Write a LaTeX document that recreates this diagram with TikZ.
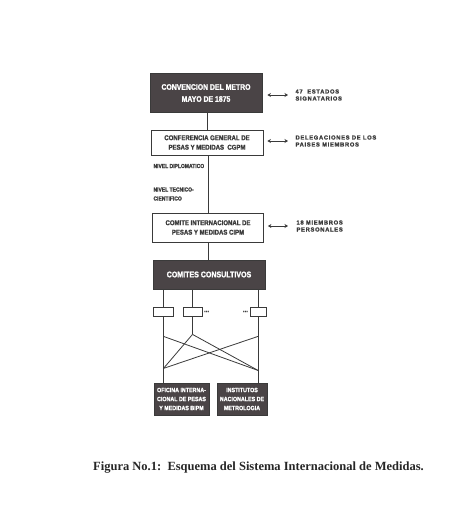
\documentclass[tikz,border=0pt]{standalone}
\usepackage{fontspec}
\usepackage{xcolor}
\usetikzlibrary{calc,arrows.meta,positioning}
\setmainfont{Liberation Serif}
\newfontfamily\diafont[FakeStretch=0.86,FakeBold=1.6]{Liberation Sans Bold}
\newfontfamily\lblfont[LetterSpace=12,FakeBold=1.6]{Liberation Sans Bold}
\definecolor{darkc}{HTML}{4A4446}
\definecolor{inkc}{HTML}{3A3A3A}
\tikzset{
  ln/.style={draw=inkc,line width=0.8pt},
  dar/.style={{Stealth[length=3.5pt,width=4pt]}-{Stealth[length=3.5pt,width=4pt]},line width=0.9pt,inkc},
  darkbox/.style={draw=inkc,line width=0.8pt,fill=darkc,text=white,align=center,inner sep=1pt,
    font=\diafont},
  whitebox/.style={draw=inkc,line width=0.8pt,fill=white,text=inkc,align=center,inner sep=1pt,
    font=\diafont\fontsize{7}{9.5}\selectfont},
  smallbox/.style={draw=inkc,line width=0.8pt,minimum width=18pt,minimum height=9pt,inner sep=0pt},
  lbl/.style={anchor=west,align=left,text=inkc,font=\lblfont\fontsize{5.8}{7}\selectfont},
  lvl/.style={anchor=west,align=left,text=inkc,font=\diafont\fontsize{5.8}{9}\selectfont}
}

\begin{document}
\begin{tikzpicture}[x=1pt,y=-1pt]
\useasboundingbox (0,0) rectangle (469,517);
% main column
\node[darkbox,minimum width=112pt,minimum height=39pt,font=\diafont\fontsize{8}{12}\selectfont] (conv) at (206,93) {CONVENCION DEL METRO\\MAYO DE 1875};
\node[whitebox,minimum width=112pt,minimum height=25pt] (cgpm) at (207,142.5) {CONFERENCIA GENERAL DE\\PESAS Y MEDIDAS\ \ CGPM};
\node[whitebox,minimum width=111pt,minimum height=29pt] (cipm) at (208,227.5) {COMITE INTERNACIONAL DE\\PESAS Y MEDIDAS CIPM};
\node[darkbox,minimum width=112pt,minimum height=29pt,font=\diafont\fontsize{8.2}{10}\selectfont] (cons) at (209,274.5) {COMITES CONSULTIVOS};
% labels on the right
\node[lbl] (est) at (292,95) {47\ \ ESTADOS\\SIGNATARIOS};
\node[lbl] (del) at (292,141) {DELEGACIONES DE LOS\\PAISES MIEMBROS};
\node[lbl] (mie) at (293,226) {18 MIEMBROS\\PERSONALES};
\node[lvl] (diplo) at (150,166) {NIVEL DIPLOMATICO};
\node[lvl] (tecn) at (150,194) {NIVEL TECNICO-\\CIENTIFICO};
% small committees
\node[smallbox,minimum width=20pt] (c1) at (163.5,311.5) {};
\node[smallbox,minimum width=19pt] (c2) at (192.5,311.5) {};
\node[smallbox,minimum width=16pt] (c3) at (258,311.5) {};
\node[text=inkc,font=\diafont\fontsize{7}{8}\selectfont,anchor=west,inner sep=1.5pt] (d1) at (c2.east) {...};
\node[text=inkc,font=\diafont\fontsize{7}{8}\selectfont,anchor=east,inner sep=1.5pt] (d2) at (c3.west) {...};
% lower boxes
\node[darkbox,minimum width=55pt,minimum height=32pt,font=\diafont\fontsize{6.2}{9}\selectfont] (bipm) at (181.5,399) {OFICINA INTERNA-\\CIONAL DE PESAS\\Y MEDIDAS BIPM};
\node[darkbox,minimum width=50pt,minimum height=32pt,font=\diafont\fontsize{6.2}{9}\selectfont] (inst) at (242,399) {INSTITUTOS\\NACIONALES DE\\METROLOGIA};
% connectors
\draw[ln] (conv.south -| cgpm.north) -- (cgpm.north);
\draw[ln] (cgpm.south -| 208,0) -- (cipm.north -| 208,0);
\draw[ln] (cipm.south -| 208,0) -- (cons.north -| 208,0);
\draw[dar] ([xshift=5pt]conv.east |- est) -- ([xshift=-4pt]est.west);
\draw[dar] ([xshift=4pt]cgpm.east |- del) -- ([xshift=-4pt]del.west);
\draw[dar] ([xshift=4pt]cipm.east |- mie) -- ([xshift=-5pt]mie.west);
\foreach \c in {c1,c2,c3}
  \draw[ln] (\c.north |- cons.south) -- (\c.north);
\coordinate (pa) at ($(c1.south)+(0,20)$);
\coordinate (pm) at ($(c2.south)+(0,18)$);
\coordinate (pb) at ($(c3.south)+(0,20)$);
\coordinate (pc) at ($(c1.south)+(0,52)$);
\coordinate (pd) at ($(c3.south)+(0,54)$);
\draw[ln] (c1.south) -- (c1.south |- bipm.north);
\draw[ln] (c3.south) -- (c3.south |- inst.north);
\draw[ln] (c2.south) -- (pm);
\draw[ln] (pa) -- (pd);
\draw[ln] (pm) -- (pc);
\draw[ln] (pm) -- (pd);
\draw[ln] (pb) -- (pc);
% caption
\node[font=\bfseries\fontsize{12.5}{14}\selectfont,text=black!85] (cap) at (258.5,468) {Figura No.1:\ \ Esquema del Sistema Internacional de Medidas.};
\end{tikzpicture}
\end{document}
